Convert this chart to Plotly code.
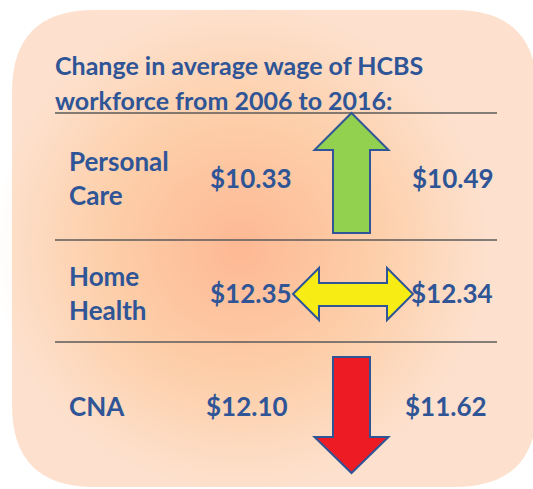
import plotly.graph_objects as go

# ---- data ----
categories = ["Personal<br>Care", "Home<br>Health", "CNA"]
wage_2006 = [10.33, 12.35, 12.10]
wage_2016 = [10.49, 12.34, 11.62]
title_text = "Change in average wage of HCBS<br>workforce from 2006 to 2016:"

W, H = 533, 489
BLUE = "#2f5597"

fig = go.Figure()

shapes = []
# rounded background box
x0, y0, x1, y1, r = 12, 10, 537, 487, 82
path = (f"M {x0+r},{y0} L {x1-r},{y0} Q {x1},{y0} {x1},{y0+r} "
        f"L {x1},{y1-r} Q {x1},{y1} {x1-r},{y1} L {x0+r},{y1} "
        f"Q {x0},{y1} {x0},{y1-r} L {x0},{y0+r} Q {x0},{y0} {x0+r},{y0} Z")
shapes.append(dict(type="path", path=path, fillcolor="#fde1ce",
                   line=dict(width=0), layer="below", xref="x", yref="y"))
# radial glow (concentric ellipses)
cx, cy = 240, 248
n = 40
for i in range(n):
    f = 1 - i / n
    rx, ry = 245 * f, 240 * f
    shapes.append(dict(type="circle", x0=cx-rx, x1=cx+rx, y0=cy-ry, y1=cy+ry,
                       fillcolor="#f4a468", opacity=0.013, line=dict(width=0),
                       layer="below", xref="x", yref="y"))

# separator lines
for yy in [113, 240, 342]:
    shapes.append(dict(type="line", x0=55, x1=497, y0=yy, y1=yy,
                       line=dict(color="#5a5a5a", width=1.5), xref="x", yref="y"))

# arrows
cxa = 351.5
up = (f"M {cxa},{113} L {cxa+37},{150} L {cxa+18.5},{150} L {cxa+18.5},{233} "
      f"L {cxa-18.5},{233} L {cxa-18.5},{150} L {cxa-37},{150} Z")
shapes.append(dict(type="path", path=up, fillcolor="#92d050",
                   line=dict(color=BLUE, width=2), xref="x", yref="y"))
dbl = ("M 293,294 L 319,268 L 319,283 L 387,283 L 387,268 L 413,294 "
       "L 387,320 L 387,306 L 319,306 L 319,320 Z")
shapes.append(dict(type="path", path=dbl, fillcolor="#f7ec13",
                   line=dict(color=BLUE, width=2), xref="x", yref="y"))
down = (f"M {cxa-18.5},357 L {cxa+18.5},357 L {cxa+18.5},437 L {cxa+37},437 "
        f"L {cxa},473 L {cxa-37},437 L {cxa-18.5},437 Z")
shapes.append(dict(type="path", path=down, fillcolor="#ed1c24",
                   line=dict(color=BLUE, width=2), xref="x", yref="y"))

annotations = []
tfont = dict(family="Lato", size=25, color=BLUE, weight="bold")
font = dict(family="Lato", size=26, color=BLUE, weight="bold")


def add(x, y, text, f):
    annotations.append(dict(x=x, y=y, text=text, showarrow=False, xanchor="left",
                            yanchor="middle", align="left", font=f, xref="x", yref="y"))


for k, line in enumerate(title_text.split("<br>")):
    add(53, 65 + 35 * k, line, tfont)

row_y = [178, 293, 406]
x_old = [208, 208, 204]
x_new = [410, 409, 403]
for cat, a, b, yy, xa, xb in zip(categories, wage_2006, wage_2016, row_y, x_old, x_new):
    parts = cat.split("<br>")
    if len(parts) == 2:
        add(67, yy - 17, parts[0], font)
        add(67, yy + 17, parts[1], font)
    else:
        add(67, yy, parts[0], font)
    add(xa, yy, f"${a:.2f}", font)
    add(xb, yy, f"${b:.2f}", font)

fig.update_layout(
    width=W, height=H, margin=dict(l=0, r=0, t=0, b=0),
    paper_bgcolor="white", plot_bgcolor="white",
    xaxis=dict(range=[0, W], visible=False, fixedrange=True),
    yaxis=dict(range=[H, 0], visible=False, fixedrange=True),
    shapes=shapes, annotations=annotations, showlegend=False,
)
fig.write_html("out.html", config={"displayModeBar": False},
               post_script="document.body.style.margin='0px';"
                           "document.body.style.overflow='hidden';")
